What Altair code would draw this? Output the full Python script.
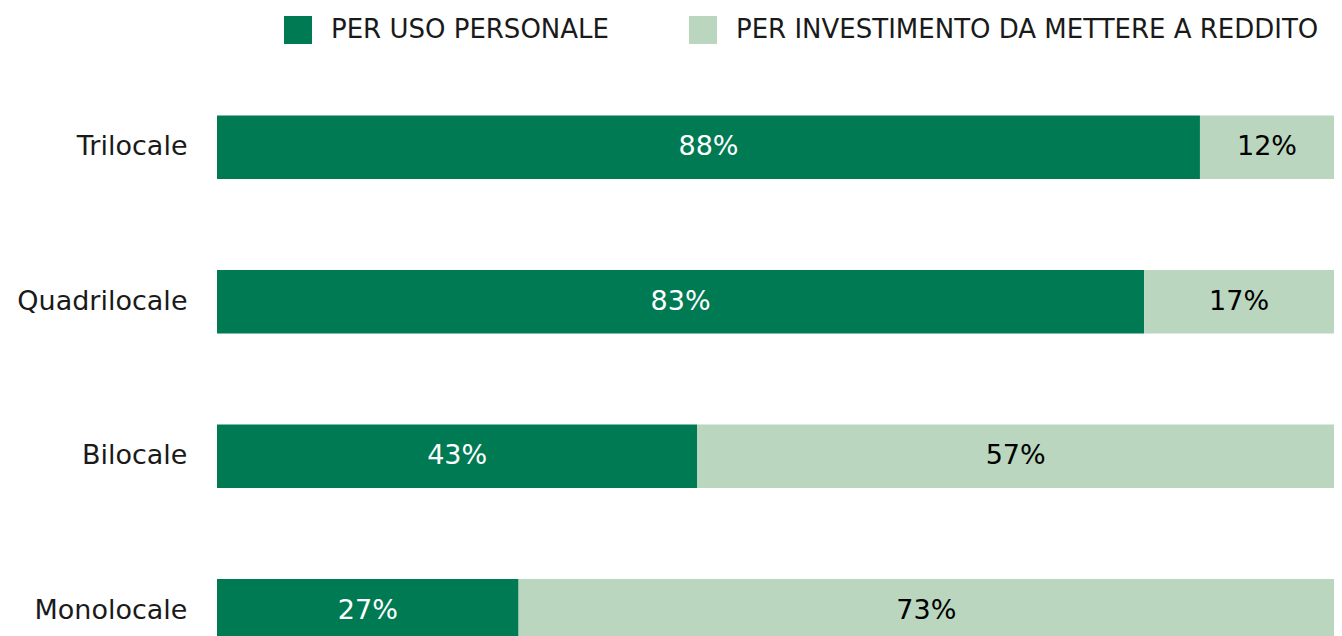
import altair as alt
import pandas as pd

categories = ["Trilocale", "Quadrilocale", "Bilocale", "Monolocale"]
personale = [88, 83, 43, 27]
investimento = [12, 17, 57, 73]
series = ["PER USO PERSONALE", "PER INVESTIMENTO DA METTERE A REDDITO"]

rows = []
for c, p, i in zip(categories, personale, investimento):
    rows.append({"cat": c, "serie": series[0], "val": p, "ord": 0, "lbl": f"{p}%", "tc": "white"})
    rows.append({"cat": c, "serie": series[1], "val": i, "ord": 1, "lbl": f"{i}%", "tc": "black"})
df = pd.DataFrame(rows)

FONT = "DejaVu Sans"
FS = 27
ysc = alt.Scale(domain=categories, paddingInner=0.59, paddingOuter=0.295)
xsc = alt.Scale(domain=[0, 100], nice=False, zero=True)

base = alt.Chart(df).transform_stack(
    stack="val", groupby=["cat"], as_=["x0", "x1"], sort=[alt.SortField("ord")]
).transform_calculate(mid="(datum.x0 + datum.x1) / 2")

bars = base.mark_bar(cornerRadius=0).encode(
    y=alt.Y("cat:N", scale=ysc, sort=categories,
            axis=alt.Axis(title=None, domain=False, ticks=False, labelFontSize=FS,
                          labelFont=FONT, labelColor="#1a1a1a", labelPadding=30,
                          minExtent=209, maxExtent=209)),
    x=alt.X("x0:Q", scale=xsc, axis=None),
    x2="x1:Q",
    color=alt.Color("serie:N", scale=alt.Scale(domain=series, range=["#007A53", "#BAD6BE"]),
                    legend=alt.Legend(title=None, orient="none", legendX=67, legendY=-54,
                                      direction="horizontal", symbolType="square",
                                      symbolSize=784, symbolStrokeWidth=0, padding=0,
                                      labelFontSize=26, labelFont=FONT, labelColor="#1a1a1a",
                                      labelOffset=19, columnPadding=80, labelLimit=800)),
)

texts = base.mark_text(fontSize=FS, font=FONT, baseline="middle", align="center").encode(
    y=alt.Y("cat:N", scale=ysc, sort=categories),
    x=alt.X("mid:Q", scale=xsc),
    text="lbl:N",
    color=alt.Color("tc:N", scale=None),
)

chart = alt.layer(bars, texts).properties(
    width=1117, height=618, background="white",
    padding={"left": 0, "top": 8, "right": 0, "bottom": 0}
).configure_view(strokeWidth=0, stroke=None)

chart.save("out.html", embed_options={"renderer": "svg", "actions": False})
